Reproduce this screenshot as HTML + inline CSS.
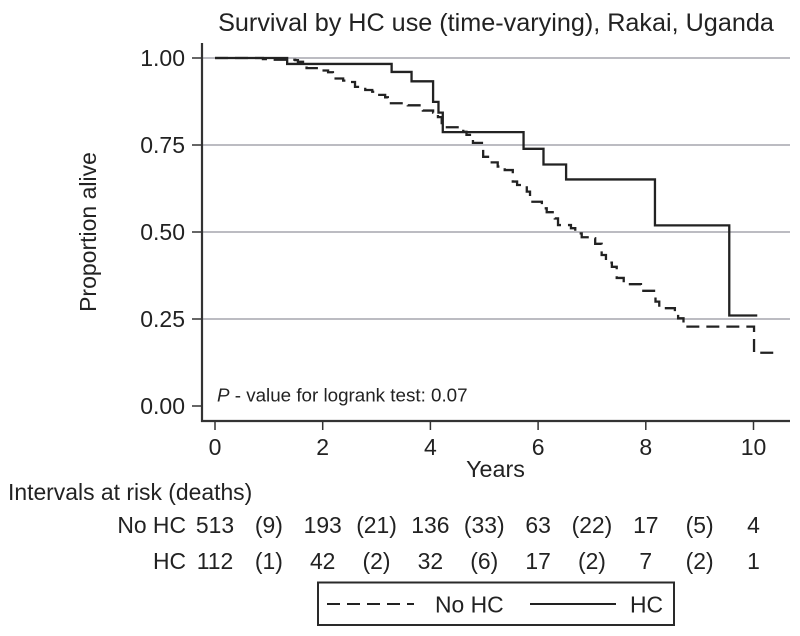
<!DOCTYPE html>
<html>
<head>
<meta charset="utf-8">
<title>Survival by HC use</title>
<style>
html,body{margin:0;padding:0;background:#fff;width:800px;height:636px;overflow:hidden}
svg{display:block}
text{font-family:"Liberation Sans",sans-serif;fill:#222}
</style>
</head>
<body>
<svg id="chart" width="800" height="636" viewBox="0 0 800 636" xmlns="http://www.w3.org/2000/svg">
<rect width="800" height="636" fill="#fff"/>
<text x="496" y="31" font-size="25.2" text-anchor="middle">Survival by HC use (time-varying), Rakai, Uganda</text>
<g id="grid"></g>
<g id="series"></g>
<g id="axes"></g>
<text transform="translate(96,232) rotate(-90)" font-size="23" text-anchor="middle">Proportion alive</text>
<text x="495.5" y="477" font-size="23.3" text-anchor="middle">Years</text>
<text x="217" y="401.5" font-size="18.8"><tspan font-style="italic">P</tspan> - value for logrank test: 0.07</text>
<text x="8" y="500" font-size="22.9">Intervals at risk (deaths)</text>
<g id="risk"></g>
<g>
<rect x="318" y="582.5" width="356" height="42.5" fill="#fff" stroke="#2a2a2a" stroke-width="2"/>
<line x1="327" x2="414" y1="604" y2="604" stroke="#222" stroke-width="2" stroke-dasharray="13 7"/>
<text x="435" y="612.5" font-size="22.9">No HC</text>
<line x1="530" x2="616" y1="604" y2="604" stroke="#222" stroke-width="2"/>
<text x="630" y="612.5" font-size="22.9">HC</text>
</g>
</svg>
<script>
var xTicks = [0, 2, 4, 6, 8, 10];
var yTicks = [0, 0.25, 0.5, 0.75, 1];
var hcTimes = [0, 1.34, 3.28, 3.65, 4.05, 4.15, 4.23, 5.73, 6.10, 6.52, 8.17, 9.55];
var hcSurvival = [1, 0.983, 0.96, 0.933, 0.874, 0.843, 0.787, 0.739, 0.694, 0.651, 0.519, 0.26];
var hcEnd = 10.07;
var noHcTimes = [0, 0.89, 1.11, 1.49, 1.54, 1.70, 1.98, 2.10, 2.19, 2.38, 2.51, 2.60, 2.79, 2.92, 3.01, 3.16, 3.21, 3.58, 3.86, 4.05, 4.14, 4.21, 4.61, 4.67, 4.79, 4.98, 5.07, 5.25, 5.38, 5.53, 5.61, 5.79, 5.85, 6.07, 6.16, 6.31, 6.37, 6.61, 6.69, 6.81, 6.99, 7.06, 7.18, 7.26, 7.37, 7.46, 7.59, 7.91, 8.18, 8.25, 8.54, 8.60, 8.70, 10.01];
var noHcSurvival = [1, 0.997, 0.995, 0.994, 0.989, 0.971, 0.964, 0.959, 0.941, 0.935, 0.931, 0.917, 0.908, 0.903, 0.894, 0.887, 0.870, 0.864, 0.849, 0.843, 0.830, 0.801, 0.788, 0.779, 0.756, 0.716, 0.700, 0.688, 0.678, 0.645, 0.635, 0.616, 0.587, 0.568, 0.557, 0.539, 0.520, 0.511, 0.496, 0.485, 0.482, 0.466, 0.434, 0.412, 0.400, 0.368, 0.350, 0.331, 0.300, 0.281, 0.266, 0.252, 0.228, 0.153];
var noHcEnd = 10.42;
var riskTimes = [0, 1, 2, 3, 4, 5, 6, 7, 8, 9, 10];
var riskNoHc = ["513", "(9)", "193", "(21)", "136", "(33)", "63", "(22)", "17", "(5)", "4"];
var riskHc = ["112", "(1)", "42", "(2)", "32", "(6)", "17", "(2)", "7", "(2)", "1"];

var NS = 'http://www.w3.org/2000/svg';
function sx(t) { return 215 + t * 53.85; }
function sy(s) { return 406 - s * 348; }
function make(tag, parent, props) {
  var el = document.createElementNS(NS, tag);
  for (var k in props) { el.setAttribute(k, props[k]); }
  parent.appendChild(el);
  return el;
}
function stepPath(times, values, end) {
  var d = 'M' + sx(times[0]) + ' ' + sy(values[0]);
  for (var i = 1; i < times.length; i++) {
    d += 'H' + sx(times[i]) + 'V' + sy(values[i]);
  }
  return d + 'H' + sx(end);
}

var grid = document.getElementById('grid');
var axes = document.getElementById('axes');
var series = document.getElementById('series');
var risk = document.getElementById('risk');

yTicks.forEach(function (v) {
  if (v > 0) {
    var g = make('line', grid, {x1: 202, x2: 790, y1: sy(v), y2: sy(v), stroke: '#bcbcc2', 'stroke-width': 2});
    
    
  }
  var t = make('line', axes, {x1: 192, x2: 202, y1: sy(v), y2: sy(v), stroke: '#333', 'stroke-width': 1.5});
  
  
  var l = make('text', axes, {x: 185, y: sy(v) + 8, 'font-size': 23, 'text-anchor': 'end'});
  l.textContent = v.toFixed(2);
  
  
});

xTicks.forEach(function (v) {
  var t = make('line', axes, {x1: sx(v), x2: sx(v), y1: 421, y2: 430, stroke: '#333', 'stroke-width': 1.5});
  
  
  var l = make('text', axes, {x: sx(v), y: 455, 'font-size': 23, 'text-anchor': 'middle'});
  l.textContent = v;
  
  
});

var yAxis = make('line', axes, {x1: 202, x2: 202, y1: 43, y2: 422, stroke: '#333', 'stroke-width': 2.2});


var xAxis = make('line', axes, {x1: 201, x2: 790, y1: 421, y2: 421, stroke: '#333', 'stroke-width': 2.2});



var noHcLine = make('path', series, {d: stepPath(noHcTimes, noHcSurvival, noHcEnd), fill: 'none', stroke: '#222', 'stroke-width': 2.3, 'stroke-dasharray': '13 7'});


var hcLine = make('path', series, {d: stepPath(hcTimes, hcSurvival, hcEnd), fill: 'none', stroke: '#222', 'stroke-width': 2.3});



function riskRow(label, values, baseline, rowName) {
  var lab = make('text', risk, {x: 186, y: baseline, 'font-size': 22.9, 'text-anchor': 'end'});
  lab.textContent = label;
  
  
  values.forEach(function (val, i) {
    var c = make('text', risk, {x: sx(riskTimes[i]), y: baseline, 'font-size': 22.9, 'text-anchor': 'middle'});
    c.textContent = val;
    
    
  });
}
riskRow('No HC', riskNoHc, 533, 'no-hc');
riskRow('HC', riskHc, 569, 'hc');
</script>
</body>
</html>
